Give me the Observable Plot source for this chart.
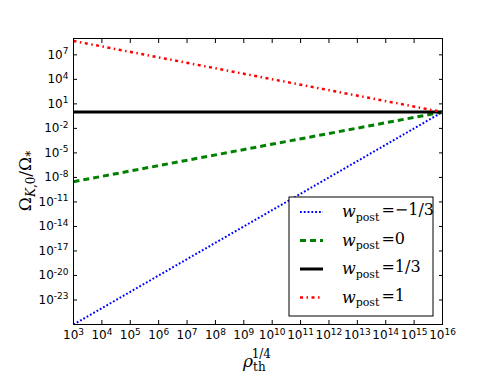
<!DOCTYPE html>
<html>
<head>
<meta charset="utf-8">
<script src="https://cdn.jsdelivr.net/npm/d3@7"></script>
<script src="https://cdn.jsdelivr.net/npm/@observablehq/plot@0.6"></script>
<style>
  html, body { margin: 0; padding: 0; background: white; }
</style>
</head>
<body>
<div id="chart"></div>
<script>
// ---- data ----
const rho = [1e3, 1e16];                       // rho_th^(1/4), x extent of each line
const seriesNames = ["−1/3", "0", "1/3", "1"];  // w_post values
const omegaWm13 = [1e-26, 1];                  // w_post = -1/3
const omegaW0   = [3e-9, 1];                   // w_post = 0
const omegaW13  = [1, 1];                      // w_post = 1/3
const omegaW1   = [5e8, 1];                    // w_post = 1
const xTickExps = [3, 4, 5, 6, 7, 8, 9, 10, 11, 12, 13, 14, 15, 16];
const yTickExps = [-23, -20, -17, -14, -11, -8, -5, -2, 1, 4, 7];

const seriesValues = [omegaWm13, omegaW0, omegaW13, omegaW1];
const styles = [
  {stroke: "#0000ff", strokeWidth: 2, strokeDasharray: "1.8,2"},
  {stroke: "#008000", strokeWidth: 3, strokeDasharray: "6,4"},
  {stroke: "#000000", strokeWidth: 3, strokeDasharray: null},
  {stroke: "#ff0000", strokeWidth: 2.5, strokeDasharray: "3,3.5,1.5,3.5"}
];
const tables = seriesValues.map((vals, i) =>
  rho.map((r, j) => ({rho: r, omega: vals[j], series: seriesNames[i]})));

const xTicks = xTickExps.map(e => Math.pow(10, e));
const yTicks = yTickExps.map(e => Math.pow(10, e));
const expOf = d => Math.round(Math.log10(d));

const chart = Plot.plot({
  width: 491, height: 382,
  marginLeft: 73, marginRight: 49, marginTop: 38, marginBottom: 58,
  style: {fontFamily: "DejaVu Sans", fontSize: "12px", background: "white", color: "black"},
  x: {type: "log", domain: [1e3, 1e16]},
  y: {type: "log", domain: [1e-26, 1e9]},
  marks: [
    ...tables.map((t, i) => Plot.line(t, {x: "rho", y: "omega", strokeLinecap: "butt", ...styles[i]})),
    Plot.axisX({ticks: xTicks, anchor: "bottom", tickSize: 0, tickPadding: 6, label: null,
      tickFormat: d => "10^" + expOf(d)}),
    Plot.axisY({ticks: yTicks, anchor: "left", tickSize: 0, tickPadding: 5, label: null,
      tickFormat: d => "10^" + expOf(d)}),
    Plot.axisX({ticks: xTicks, anchor: "bottom", tickSize: -4, tickFormat: () => "", label: null}),
    Plot.axisX({ticks: xTicks, anchor: "top", tickSize: -4, tickFormat: () => "", label: null}),
    Plot.axisY({ticks: yTicks, anchor: "left", tickSize: -4, tickFormat: () => "", label: null}),
    Plot.axisY({ticks: yTicks, anchor: "right", tickSize: -4, tickFormat: () => "", label: null}),
    Plot.frame({stroke: "black", strokeWidth: 1})
  ]
});
document.getElementById("chart").appendChild(chart);

const svg = d3.select(chart);
// superscripts for tick labels
svg.selectAll('g[aria-label="x-axis tick label"] text, g[aria-label="y-axis tick label"] text').each(function() {
  const t = d3.select(this);
  const s = t.text();
  if (!s.includes("^")) return;
  const [base, exp] = s.split("^");
  t.text(base);
  t.append("tspan").attr("dy", "-0.5em").attr("font-size", "9px").text(exp);
});

// axis labels
const serif = "'DejaVu Serif', 'Liberation Serif', serif";
const xl = svg.append("text").attr("x", 257).attr("y", 367).attr("text-anchor", "middle")
  .attr("font-family", serif).attr("font-size", 17);
xl.append("tspan").attr("font-style", "italic").text("ρ");
xl.append("tspan").attr("font-size", 12).attr("dy", "0.35em").text("th");
xl.append("tspan").attr("font-size", 12).attr("dy", "-1.1em").attr("dx", "-14").text("1/4");

const yl = svg.append("text").attr("transform", "translate(31,181) rotate(-90)").attr("text-anchor", "middle")
  .attr("font-family", serif).attr("font-size", 17);
yl.append("tspan").text("Ω");
yl.append("tspan").attr("font-size", 12).attr("dy", "0.35em").attr("font-style", "italic").text("K");
yl.append("tspan").attr("font-size", 12).text(",0");
yl.append("tspan").attr("dy", "-0.25em").text("/Ω");
yl.append("tspan").attr("font-size", 12).attr("dy", "0.35em").text("*");

// legend
const lg = svg.append("g").attr("transform", "translate(289,197)");
lg.append("rect").attr("width", 144).attr("height", 119).attr("fill", "white").attr("stroke", "black");
seriesNames.forEach((name, i) => {
  const y = 15 + i * 28.5;
  const st = styles[i];
  lg.append("line").attr("x1", 11).attr("x2", 34).attr("y1", y).attr("y2", y)
    .attr("stroke", st.stroke).attr("stroke-width", st.strokeWidth)
    .attr("stroke-dasharray", st.strokeDasharray);
  const tx = lg.append("text").attr("x", 53).attr("y", y + 5).attr("text-anchor", "start")
    .attr("font-family", serif).attr("font-size", 16);
  tx.append("tspan").attr("font-style", "italic").text("w");
  tx.append("tspan").attr("font-size", 11).attr("dy", "0.35em").text("post");
  tx.append("tspan").attr("dy", "-0.35em").attr("dx", 2).text("=" + name);
});
</script>
</body>
</html>
